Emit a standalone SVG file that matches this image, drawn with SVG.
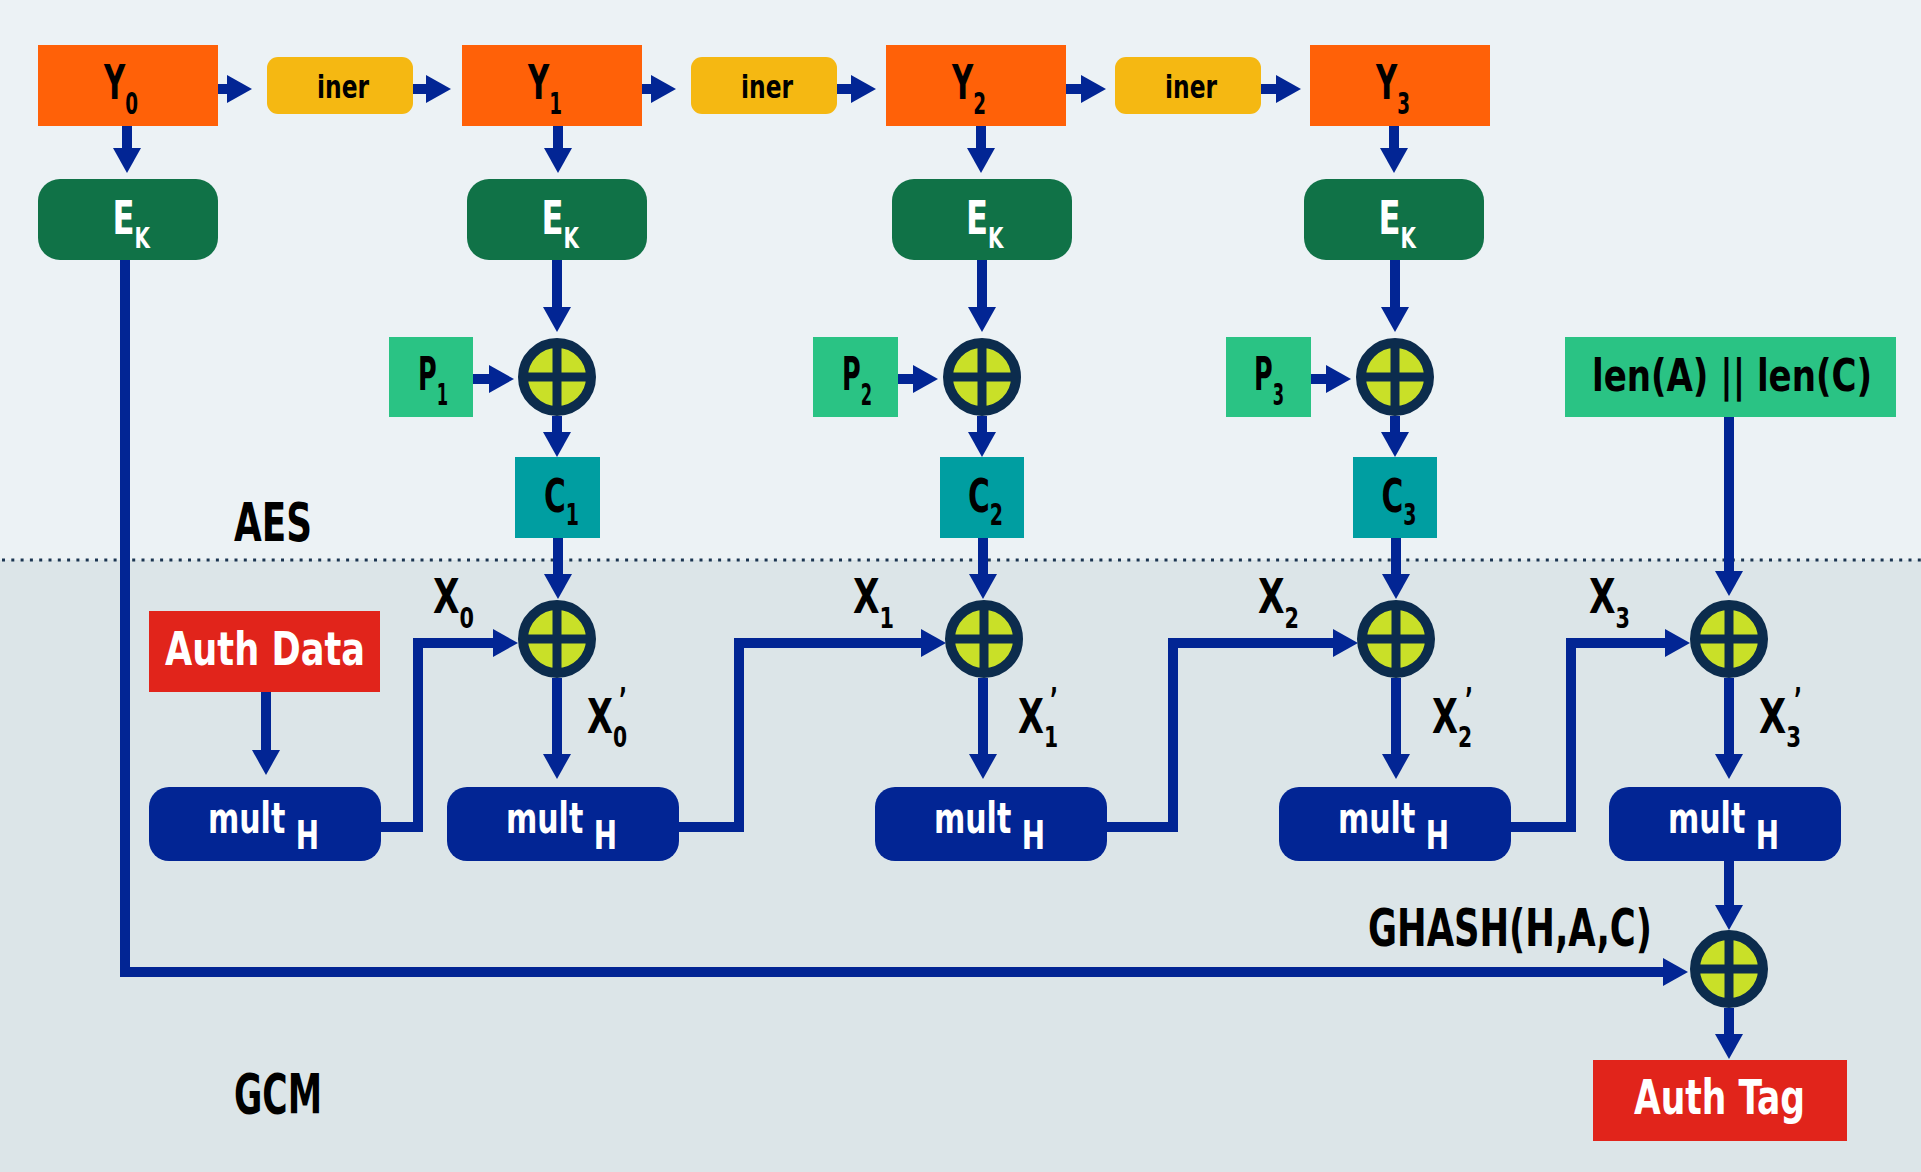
<svg xmlns="http://www.w3.org/2000/svg" width="1921" height="1172" viewBox="0 0 1921 1172">
<style>
text{font-family:"DejaVu Sans Condensed","DejaVu Sans","Liberation Sans",sans-serif;font-weight:bold}
.b{fill:#000}.w{fill:#fff}
.big{font-size:48px}.sub{font-size:30px}.ks{font-size:29px}
.Y{fill:#ff6108}.iner{fill:#f5b812}.E{fill:#107247}.P{fill:#2ac384}.C{fill:#009ea1}.R{fill:#e1241b}.M{fill:#022594}
.cn{fill:none;stroke:#022594;stroke-width:10;stroke-linejoin:miter;marker-end:url(#ah)}
</style>
<defs>
<marker id="ah" markerUnits="userSpaceOnUse" viewBox="0 0 25 28" markerWidth="25" markerHeight="28" refX="6" refY="14" orient="auto"><path d="M0,0 L25,14 L0,28 z" fill="#022594"/></marker>
<g id="xor"><circle r="34" fill="#c9e028" stroke="#0c2c4d" stroke-width="10"/><path d="M-34,0H34M0,-34V34" stroke="#0c2c4d" stroke-width="9"/></g>
</defs>
<rect x="0" y="0" width="1921" height="560" fill="#ecf2f5"/>
<rect x="0" y="560" width="1921" height="612" fill="#dce5e8"/>
<line x1="2" y1="560" x2="1921" y2="560" stroke="#1c3652" stroke-width="3" stroke-dasharray="3 6.3"/>
<text class="b" x="234" y="541" font-size="53" textLength="78" lengthAdjust="spacingAndGlyphs">AES</text>
<text class="b" x="234" y="1113" font-size="55" textLength="88" lengthAdjust="spacingAndGlyphs">GCM</text>
<g id="connectors">
<path class="cn" d="M218,89H233"/><path class="cn" d="M413,89H432"/><path class="cn" d="M642,89H657"/>
<path class="cn" d="M837,89H857"/><path class="cn" d="M1066,89H1087"/><path class="cn" d="M1261,89H1282"/>
<path class="cn" d="M127,125V154"/><path class="cn" d="M558,125V154"/><path class="cn" d="M981,125V154"/><path class="cn" d="M1394,125V154"/>
<path class="cn" d="M557,260V313"/><path class="cn" d="M982,260V313"/><path class="cn" d="M1395,260V313"/>
<path class="cn" d="M473,379H495"/><path class="cn" d="M898,379H919"/><path class="cn" d="M1310,379H1332"/>
<path class="cn" d="M557,416V438"/><path class="cn" d="M982,416V438"/><path class="cn" d="M1395,416V438"/>
<path class="cn" d="M558,538V580"/><path class="cn" d="M983,538V580"/><path class="cn" d="M1396,538V580"/>
<path class="cn" d="M1729,417V577"/>
<path class="cn" d="M557,678V760"/><path class="cn" d="M983,678V760"/><path class="cn" d="M1396,678V760"/><path class="cn" d="M1729,678V760"/>
<path class="cn" d="M266,692V756"/>
<path class="cn" d="M381,827H418V643H499"/>
<path class="cn" d="M679,827H739V643H927"/>
<path class="cn" d="M1107,827H1173V643H1339"/>
<path class="cn" d="M1511,827H1571V643H1671"/>
<path class="cn" d="M1729,861V911"/>
<path class="cn" d="M125,260V972H1669"/>
<path class="cn" d="M1729,1008V1040"/>
</g>
<g id="Y0"><rect class="Y" x="38" y="45" width="180" height="81"/><text class="b big" x="104" y="99" textLength="34" lengthAdjust="spacingAndGlyphs">Y<tspan class="sub" dy="15">0</tspan></text></g>
<g id="Y1"><rect class="Y" x="462" y="45" width="180" height="81"/><text class="b big" x="528" y="99" textLength="34" lengthAdjust="spacingAndGlyphs">Y<tspan class="sub" dy="15">1</tspan></text></g>
<g id="Y2"><rect class="Y" x="886" y="45" width="180" height="81"/><text class="b big" x="952" y="99" textLength="34" lengthAdjust="spacingAndGlyphs">Y<tspan class="sub" dy="15">2</tspan></text></g>
<g id="Y3"><rect class="Y" x="1310" y="45" width="180" height="81"/><text class="b big" x="1376" y="99" textLength="34" lengthAdjust="spacingAndGlyphs">Y<tspan class="sub" dy="15">3</tspan></text></g>
<g id="iner1"><rect class="iner" x="267" y="57" width="146" height="57" rx="11"/><text class="b" x="343" y="98" font-size="32" text-anchor="middle" textLength="52" lengthAdjust="spacingAndGlyphs">iner</text></g>
<g id="iner2"><rect class="iner" x="691" y="57" width="146" height="57" rx="11"/><text class="b" x="767" y="98" font-size="32" text-anchor="middle" textLength="52" lengthAdjust="spacingAndGlyphs">iner</text></g>
<g id="iner3"><rect class="iner" x="1115" y="57" width="146" height="57" rx="11"/><text class="b" x="1191" y="98" font-size="32" text-anchor="middle" textLength="52" lengthAdjust="spacingAndGlyphs">iner</text></g>
<g id="EK0"><rect class="E" x="38" y="179" width="180" height="81" rx="22"/><text class="w" x="112.5" y="234" font-size="47" textLength="37.5" lengthAdjust="spacingAndGlyphs">E<tspan class="ks" dy="14">K</tspan></text></g>
<g id="EK1"><rect class="E" x="467" y="179" width="180" height="81" rx="22"/><text class="w" x="541.5" y="234" font-size="47" textLength="37.5" lengthAdjust="spacingAndGlyphs">E<tspan class="ks" dy="14">K</tspan></text></g>
<g id="EK2"><rect class="E" x="892" y="179" width="180" height="81" rx="22"/><text class="w" x="966" y="234" font-size="47" textLength="37.5" lengthAdjust="spacingAndGlyphs">E<tspan class="ks" dy="14">K</tspan></text></g>
<g id="EK3"><rect class="E" x="1304" y="179" width="180" height="81" rx="22"/><text class="w" x="1378.5" y="234" font-size="47" textLength="37.5" lengthAdjust="spacingAndGlyphs">E<tspan class="ks" dy="14">K</tspan></text></g>
<g id="P1"><rect class="P" x="389" y="337" width="84" height="80"/><text class="b" x="418" y="390" font-size="47" textLength="30" lengthAdjust="spacingAndGlyphs">P<tspan class="sub" dy="15">1</tspan></text></g>
<g id="P2"><rect class="P" x="813" y="337" width="85" height="80"/><text class="b" x="842" y="390" font-size="47" textLength="30" lengthAdjust="spacingAndGlyphs">P<tspan class="sub" dy="15">2</tspan></text></g>
<g id="P3"><rect class="P" x="1226" y="337" width="85" height="80"/><text class="b" x="1254" y="390" font-size="47" textLength="30" lengthAdjust="spacingAndGlyphs">P<tspan class="sub" dy="15">3</tspan></text></g>
<g id="xor1"><use href="#xor" x="557" y="377"/></g>
<g id="xor2"><use href="#xor" x="982" y="377"/></g>
<g id="xor3"><use href="#xor" x="1395" y="377"/></g>
<g id="C1"><rect class="C" x="515" y="457" width="85" height="81"/><text class="b" x="544" y="512" font-size="47" textLength="35" lengthAdjust="spacingAndGlyphs">C<tspan class="sub" dy="13">1</tspan></text></g>
<g id="C2"><rect class="C" x="940" y="457" width="84" height="81"/><text class="b" x="968" y="512" font-size="47" textLength="35" lengthAdjust="spacingAndGlyphs">C<tspan class="sub" dy="13">2</tspan></text></g>
<g id="C3"><rect class="C" x="1353" y="457" width="84" height="81"/><text class="b" x="1381.5" y="512" font-size="47" textLength="35" lengthAdjust="spacingAndGlyphs">C<tspan class="sub" dy="13">3</tspan></text></g>
<g id="lenAC"><rect class="P" x="1565" y="337" width="331" height="80"/><text class="b" x="1732" y="391" font-size="45" text-anchor="middle" textLength="280" lengthAdjust="spacingAndGlyphs">len(A) || len(C)</text></g>
<g id="authdata"><rect class="R" x="149" y="611" width="231" height="81"/><text class="w" x="265" y="665" font-size="47" text-anchor="middle" textLength="200" lengthAdjust="spacingAndGlyphs">Auth Data</text></g>
<g id="xorL1"><use href="#xor" x="557" y="639"/></g>
<g id="xorL2"><use href="#xor" x="984" y="639"/></g>
<g id="xorL3"><use href="#xor" x="1396" y="639"/></g>
<g id="xorL4"><use href="#xor" x="1729" y="639"/></g>
<g id="labelsX">
<text class="b big" x="433" y="613" textLength="41" lengthAdjust="spacingAndGlyphs">X<tspan class="ks" dy="15">0</tspan></text>
<text class="b big" x="853" y="613" textLength="41" lengthAdjust="spacingAndGlyphs">X<tspan class="ks" dy="15">1</tspan></text>
<text class="b big" x="1258" y="613" textLength="41" lengthAdjust="spacingAndGlyphs">X<tspan class="ks" dy="15">2</tspan></text>
<text class="b big" x="1589" y="613" textLength="41" lengthAdjust="spacingAndGlyphs">X<tspan class="ks" dy="15">3</tspan></text>
<text class="b big" x="587" y="733" textLength="40" lengthAdjust="spacingAndGlyphs">X<tspan class="ks" dy="14">0</tspan></text><text class="b" x="619" y="710" font-size="32" textLength="8" lengthAdjust="spacingAndGlyphs">’</text>
<text class="b big" x="1018" y="733" textLength="40" lengthAdjust="spacingAndGlyphs">X<tspan class="ks" dy="14">1</tspan></text><text class="b" x="1050" y="710" font-size="32" textLength="8" lengthAdjust="spacingAndGlyphs">’</text>
<text class="b big" x="1432" y="733" textLength="40" lengthAdjust="spacingAndGlyphs">X<tspan class="ks" dy="14">2</tspan></text><text class="b" x="1465" y="710" font-size="32" textLength="8" lengthAdjust="spacingAndGlyphs">’</text>
<text class="b big" x="1759" y="733" textLength="42" lengthAdjust="spacingAndGlyphs">X<tspan class="ks" dy="14">3</tspan></text><text class="b" x="1794" y="710" font-size="32" textLength="8" lengthAdjust="spacingAndGlyphs">’</text>
</g>
<g id="multH0"><rect class="M" x="149" y="787" width="232" height="74" rx="20"/><text class="w" x="208" y="833" font-size="42" textLength="111" lengthAdjust="spacingAndGlyphs">mult <tspan font-size="39" dy="16">H</tspan></text></g>
<g id="multH1"><rect class="M" x="447" y="787" width="232" height="74" rx="20"/><text class="w" x="506" y="833" font-size="42" textLength="111" lengthAdjust="spacingAndGlyphs">mult <tspan font-size="39" dy="16">H</tspan></text></g>
<g id="multH2"><rect class="M" x="875" y="787" width="232" height="74" rx="20"/><text class="w" x="934" y="833" font-size="42" textLength="111" lengthAdjust="spacingAndGlyphs">mult <tspan font-size="39" dy="16">H</tspan></text></g>
<g id="multH3"><rect class="M" x="1279" y="787" width="232" height="74" rx="20"/><text class="w" x="1338" y="833" font-size="42" textLength="111" lengthAdjust="spacingAndGlyphs">mult <tspan font-size="39" dy="16">H</tspan></text></g>
<g id="multH4"><rect class="M" x="1609" y="787" width="232" height="74" rx="20"/><text class="w" x="1668" y="833" font-size="42" textLength="111" lengthAdjust="spacingAndGlyphs">mult <tspan font-size="39" dy="16">H</tspan></text></g>
<g id="ghash"><text class="b" x="1368" y="946" font-size="51" textLength="284" lengthAdjust="spacingAndGlyphs">GHASH(H,A,C)</text></g>
<g id="xorFinal"><use href="#xor" x="1729" y="969"/></g>
<g id="authtag"><rect class="R" x="1593" y="1060" width="254" height="81"/><text class="w" x="1719.5" y="1114" font-size="48" text-anchor="middle" textLength="171" lengthAdjust="spacingAndGlyphs">Auth Tag</text></g>
</svg>
